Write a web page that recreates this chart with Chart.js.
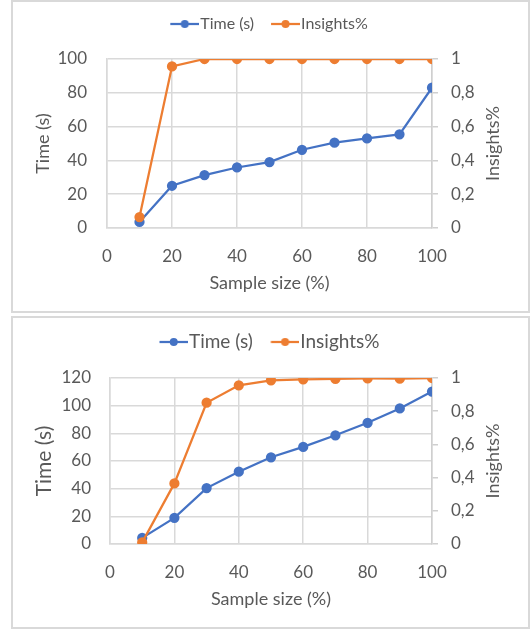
<!DOCTYPE html>
<html><head><meta charset="utf-8">
<script src="https://cdn.jsdelivr.net/npm/chart.js@4/dist/chart.umd.min.js"></script>
<style>
html,body{margin:0;padding:0;background:#fff;}
body{width:531px;height:632px;position:relative;overflow:hidden;}
.box{position:absolute;left:11px;width:519px;height:313px;box-sizing:border-box;border:2px solid #D9D9D9;background:#fff;}
#b1{top:0}
#b2{top:316px}
canvas{display:block}
</style></head><body>
<div class="box" id="b1"><canvas id="c1" width="515" height="309"></canvas></div>
<div class="box" id="b2"><canvas id="c2" width="515" height="309"></canvas></div>
<script>
// ---- data ----
const sampleSizes = [10, 20, 30, 40, 50, 60, 70, 80, 90, 100];
const time1 = [3.6, 25, 31.3, 35.8, 39, 46.3, 50.5, 53, 55.4, 83];
const insights1 = [0.065, 0.956, 1, 1, 1, 1, 1, 1, 1, 1];
const time2 = [4.4, 18.9, 40.4, 52.3, 62.7, 70.2, 78.6, 87.6, 98, 110.2];
const insights2 = [0.01, 0.365, 0.851, 0.956, 0.986, 0.992, 0.994, 0.997, 0.996, 1];
const seriesNames = ['Time (s)', 'Insights%'];
const xTitle = 'Sample size (%)';
const yLeftTitle = 'Time (s)';
const yRightTitle = 'Insights%';
const xRange = [0, 100, 20];
const yLeftRange1 = [0, 100, 20];
const yLeftRange2 = [0, 120, 20];
const yRightRange = [0, 1, 0.2];

// ---- styles ----
const BLUE = '#4472C4', ORANGE = '#ED7D31', TXT = '#595959', GRID = '#D9D9D9';
const FONT = 'Lato';

function legendIcon(color, boxW, fs, gapLeft) {
  const rightEdge = boxW + fs / 2 - 1;
  const W = Math.round(2 * rightEdge - boxW);
  const lineLen = rightEdge - gapLeft;
  const c = document.createElement('canvas');
  c.width = W; c.height = 12;
  const g = c.getContext('2d');
  const start = W - lineLen;
  g.strokeStyle = color; g.lineWidth = 2.25;
  g.beginPath(); g.moveTo(start, 6); g.lineTo(W, 6); g.stroke();
  g.fillStyle = color;
  g.beginPath(); g.arc(start + lineLen / 2, 6, 4, 0, Math.PI * 2); g.fill();
  return c;
}

const rightTitlePlugin = {
  id: 'rightTitle',
  beforeLayout(chart, args, opts) {
    const lg = chart.legend;
    if (lg && !lg._fixedH) {
      const f = lg.fit;
      lg.fit = function () { f.call(this); this.height = opts.legendH; };
      lg._fixedH = true;
    }
  },
  afterDraw(chart, args, opts) {
    const {ctx, chartArea} = chart;
    ctx.save();
    ctx.font = opts.size + 'px ' + FONT;
    ctx.fillStyle = TXT;
    ctx.translate(opts.x, (chartArea.top + chartArea.bottom) / 2);
    ctx.rotate(-Math.PI / 2);
    ctx.textAlign = 'center';
    ctx.textBaseline = 'middle';
    ctx.fillText(opts.text, 0, 0);
    ctx.restore();
  }
};

function makeChart(id, time, insights, yLeftRange, cfg) {
  const icons = [legendIcon(BLUE, cfg.boxW, cfg.legendFs, cfg.gapLeft), legendIcon(ORANGE, cfg.boxW, cfg.legendFs, cfg.gapLeft)];
  return new Chart(document.getElementById(id), {
    type: 'line',
    data: {
      datasets: [
        {label: seriesNames[0], data: sampleSizes.map((x, i) => ({x, y: time[i]})), yAxisID: 'yL',
         borderColor: BLUE, backgroundColor: BLUE, borderWidth: 2.25, pointRadius: 4, pointHoverRadius: 4, order: 1},
        {label: seriesNames[1], data: sampleSizes.map((x, i) => ({x, y: insights[i]})), yAxisID: 'yR',
         borderColor: ORANGE, backgroundColor: ORANGE, borderWidth: 2.25, pointRadius: 4, pointHoverRadius: 4, order: 0}
      ]
    },
    options: {
      responsive: false, animation: false,
      layout: {padding: {top: cfg.padTop, left: 0, right: 12, bottom: 0}},
      plugins: {
        tooltip: {enabled: false},
        legend: {
          position: 'top',
          labels: {
            usePointStyle: true, pointStyleWidth: cfg.boxW, padding: 8, color: TXT,
            font: {family: FONT, size: cfg.legendFs},
            sort: (a, b) => a.datasetIndex - b.datasetIndex,
            generateLabels(chart) {
              const items = Chart.defaults.plugins.legend.labels.generateLabels(chart);
              items.forEach(it => { it.pointStyle = icons[it.datasetIndex]; });
              return items;
            }
          }
        },
        rightTitle: {text: yRightTitle, x: 480, size: 18, legendH: cfg.top - cfg.padTop}
      },
      scales: {
        x: {
          type: 'linear', min: xRange[0], max: xRange[1],
          ticks: {stepSize: xRange[2], color: TXT, font: {family: FONT, size: 17}, padding: 18},
          grid: {color: GRID, lineWidth: 1.5, drawTicks: false},
          border: {color: GRID, width: 1.5},
          title: {display: true, text: xTitle, color: TXT, font: {family: FONT, size: 18}, padding: {top: 0, bottom: 17}},
          afterFit(s) { s.height = 83; }
        },
        yL: {
          type: 'linear', position: 'left', min: yLeftRange[0], max: yLeftRange[1],
          ticks: {stepSize: yLeftRange[2], color: TXT, font: {family: FONT, size: 17}, padding: cfg.leftPad},
          grid: {color: GRID, lineWidth: 1.5, drawTicks: false},
          border: {color: GRID, width: 1.5},
          title: {display: true, text: yLeftTitle, color: TXT, font: {family: FONT, size: cfg.leftTitleFs}, padding: {top: cfg.leftTitleX - cfg.leftTitleFs * 0.6, bottom: 0}},
          afterFit(s) { s.width = cfg.left; }
        },
        yR: {
          type: 'linear', position: 'right', min: yRightRange[0], max: yRightRange[1],
          ticks: {stepSize: yRightRange[2], color: TXT, font: {family: FONT, size: 17}, padding: 13,
                  callback: v => String(Math.round(v * 10) / 10).replace('.', ',')},
          grid: {drawOnChartArea: false, drawTicks: true, tickLength: 6, color: '#CFCFCF', lineWidth: 1.5},
          border: {color: '#CFCFCF', width: 1.5},
          afterFit(s) { s.width = 84; }
        }
      }
    },
    plugins: [rightTitlePlugin]
  });
}

makeChart('c1', time1, insights1, yLeftRange1,
  {left: 94, top: 57, padTop: 6, legendFs: 16, boxW: 31, gapLeft: 9, leftPad: 20, leftTitleFs: 18, leftTitleX: 30});
makeChart('c2', time2, insights2, yLeftRange2,
  {left: 97, top: 60, padTop: 6.5, legendFs: 19, boxW: 30, gapLeft: 10, leftPad: 19, leftTitleFs: 21, leftTitleX: 31.5});
</script>
</body></html>
